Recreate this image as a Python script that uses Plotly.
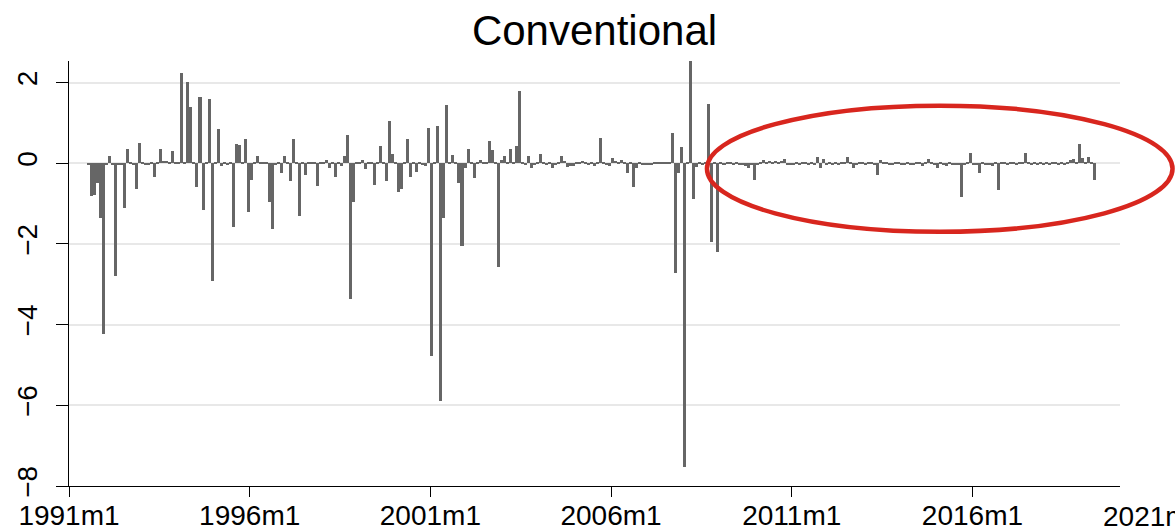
import plotly.graph_objects as go

# Monthly values, first observation 1991m7, last 2019m5
start_year, start_month = 1991, 7
shocks_1991 = [-0.03, -0.81, -0.78, -0.50, -1.36, -4.23]
shocks_1992 = [-0.03, 0.18, -0.04, -2.79, -0.05, -0.02, -1.11, 0.35, 0.03, -0.02, -0.64, 0.51]
shocks_1993 = [0.02, -0.04, -0.05, 0.02, -0.34, 0.03, 0.35, 0.06, 0.05, 0.02, 0.31, 0.04]
shocks_1994 = [0.02, 2.23, 0.03, 2.02, 1.40, 0.02, -0.60, 1.64, -1.16, 0.02, 1.59, -2.93]
shocks_1995 = [0.03, 0.86, -0.08, 0.02, -0.03, 0.02, -1.57, 0.47, 0.45, 0.02, 0.60, -1.20]
shocks_1996 = [-0.41, 0.03, 0.17, 0.02, 0.03, 0.02, -0.95, -1.63, -0.05, 0.03, -0.25, 0.17]
shocks_1997 = [0.02, -0.45, 0.60, 0.03, -1.30, 0.02, -0.29, 0.03, 0.04, 0.02, -0.56, 0.02]
shocks_1998 = [0.03, 0.08, -0.12, 0.02, -0.33, 0.03, -0.08, 0.17, 0.70, -3.37, -0.95, 0.02]
shocks_1999 = [0.03, 0.08, -0.14, 0.02, 0.03, -0.54, 0.02, 0.44, 0.03, -0.45, 1.05, 0.23]
shocks_2000 = [0.02, -0.72, -0.65, 0.04, 0.59, -0.33, 0.03, -0.21, 0.02, -0.02, -0.08, 0.87]
shocks_2001 = [-4.77, 0.03, 0.93, -5.90, -1.35, 1.44, 0.03, 0.20, 0.02, -0.50, -2.05, -0.12]
shocks_2002 = [0.35, 0.02, -0.37, 0.03, 0.08, 0.02, 0.04, 0.56, 0.33, 0.02, -2.56, 0.08]
shocks_2003 = [0.17, 0.03, 0.35, 0.02, 0.44, 1.80, 0.02, -0.03, 0.17, -0.12, -0.05, 0.02]
shocks_2004 = [0.23, 0.02, -0.04, 0.02, -0.12, -0.02, 0.03, 0.17, 0.05, -0.10, -0.08, -0.06]
shocks_2005 = [0.02, 0.03, 0.05, 0.02, -0.02, 0.03, -0.06, 0.02, 0.62, 0.03, -0.04, -0.08]
shocks_2006 = [0.12, 0.05, 0.04, 0.08, 0.03, -0.25, 0.02, -0.60, -0.12, 0.02, -0.05, -0.04]
shocks_2007 = [-0.05, -0.04, 0.02, 0.02, 0.03, 0.02, 0.04, 0.02, 0.74, -2.71, -0.25, 0.40]
shocks_2008 = [-7.52, 0.02, 2.54, -0.88, -0.10, 0.02, -0.02, 0.03, 1.46, -1.94, 0.03, -2.20]
shocks_2009 = [0.02, -0.03, 0.03, 0.02, -0.02, 0.02, -0.03, -0.03, -0.08, -0.12, -0.05, -0.41]
shocks_2010 = [-0.03, 0.02, 0.08, 0.02, 0.05, 0.02, 0.06, 0.02, 0.05, 0.10, -0.03, -0.05]
shocks_2011 = [-0.04, 0.02, -0.03, 0.02, 0.02, -0.04, 0.02, -0.03, 0.16, -0.12, 0.10, -0.05]
shocks_2012 = [0.02, -0.03, 0.02, -0.04, 0.02, 0.03, 0.15, 0.02, -0.12, -0.03, 0.02, 0.02]
shocks_2013 = [-0.04, 0.02, 0.03, -0.04, -0.29, 0.08, 0.02, 0.02, -0.03, -0.03, 0.02, 0.02]
shocks_2014 = [-0.03, -0.03, 0.02, -0.02, -0.04, 0.02, 0.02, -0.07, 0.02, 0.10, 0.02, -0.05]
shocks_2015 = [-0.12, 0.02, -0.05, -0.06, 0.02, -0.03, -0.04, -0.04, -0.83, -0.03, 0.02, 0.26]
shocks_2016 = [-0.04, -0.03, -0.25, 0.02, -0.05, -0.03, -0.06, 0.02, -0.66, 0.02, 0.03, -0.02]
shocks_2017 = [0.02, 0.03, -0.03, 0.02, 0.02, 0.25, 0.03, -0.03, 0.02, -0.03, 0.02, -0.02]
shocks_2018 = [0.02, -0.03, 0.02, 0.02, -0.02, 0.02, -0.02, 0.03, 0.08, 0.10, 0.02, 0.47]
shocks_2019 = [0.12, 0.03, 0.15, 0.02, -0.41]

tick_labels = ["1991m1", "1996m1", "2001m1", "2006m1", "2011m1", "2016m1", "2021m1"]
y_ticks = [-8, -6, -4, -2, 0, 2]
title_text = "Conventional"

yearly = [shocks_1991, shocks_1992, shocks_1993, shocks_1994, shocks_1995, shocks_1996,
          shocks_1997, shocks_1998, shocks_1999, shocks_2000, shocks_2001, shocks_2002,
          shocks_2003, shocks_2004, shocks_2005, shocks_2006, shocks_2007, shocks_2008,
          shocks_2009, shocks_2010, shocks_2011, shocks_2012, shocks_2013, shocks_2014,
          shocks_2015, shocks_2016, shocks_2017, shocks_2018, shocks_2019]
values = [v for yr in yearly for v in yr]


def tm(label):
    y, m = label.split("m")
    return (int(y) - 1960) * 12 + int(m) - 1


first_tm = (start_year - 1960) * 12 + start_month - 1
x_tm = [first_tm + i for i in range(len(values))]
tick_tm = [tm(t) for t in tick_labels]
x_range = [tm("1991m1"), tm("2020m2")]

FONT = "Liberation Sans, Arial, sans-serif"

fig = go.Figure(go.Bar(
    x=x_tm, y=values, width=1, offset=0,
    marker=dict(color="#666666", line=dict(width=0)),
))

in_range = [(t, l) for t, l in zip(tick_tm, tick_labels) if t <= x_range[1]]
out_range = [(t, l) for t, l in zip(tick_tm, tick_labels) if t > x_range[1]]

fig.update_layout(
    width=1175, height=528,
    margin=dict(l=69, r=55, t=61, b=42, autoexpand=False),
    paper_bgcolor="white", plot_bgcolor="white",
    bargap=0, showlegend=False,
    title=dict(text=title_text, x=0.5, xref="paper", xanchor="center",
               y=1 - 30 / 528, yref="container", yanchor="middle",
               font=dict(family=FONT, size=42, color="black")),
    xaxis=dict(range=x_range, tickmode="array", automargin=False,
               tickvals=[t for t, _ in in_range], ticktext=[l for _, l in in_range],
               ticks="outside", ticklen=10, tickwidth=1.3, tickcolor="black",
               ticklabelstandoff=-6,
               showline=True, linecolor="black", linewidth=1.3,
               showgrid=False, zeroline=False,
               tickfont=dict(family=FONT, size=28, color="black")),
    yaxis=dict(range=[-8, 2.535], tickmode="array", tickvals=y_ticks, automargin=False,
               ticks="outside", ticklen=12, tickwidth=1.3, tickcolor="black",
               ticklabelstandoff=8,
               showline=True, linecolor="black", linewidth=1.3,
               showgrid=True, gridcolor="#e8e8e8", gridwidth=2, zeroline=False,
               tickangle=-90,
               tickfont=dict(family=FONT, size=28, color="black")),
)

span = x_range[1] - x_range[0]
for t, l in out_range:
    fig.add_annotation(x=(t - x_range[0]) / span, xref="paper", y=0, yref="paper",
                       yanchor="top", xanchor="center", yshift=-13, showarrow=False,
                       text=l, font=dict(family=FONT, size=28, color="black"))

# red ellipse highlighting the post-2009 period
fig.add_shape(type="circle", xref="paper", yref="paper",
              x0=0.607, x1=1.05, y0=0.598, y1=0.895,
              line=dict(color="#d8261e", width=4.5), fillcolor="rgba(0,0,0,0)")

fig.write_html(
    "out.html",
    config={"displayModeBar": False},
    post_script="document.body.style.margin='0';document.body.style.overflow='hidden';",
)
